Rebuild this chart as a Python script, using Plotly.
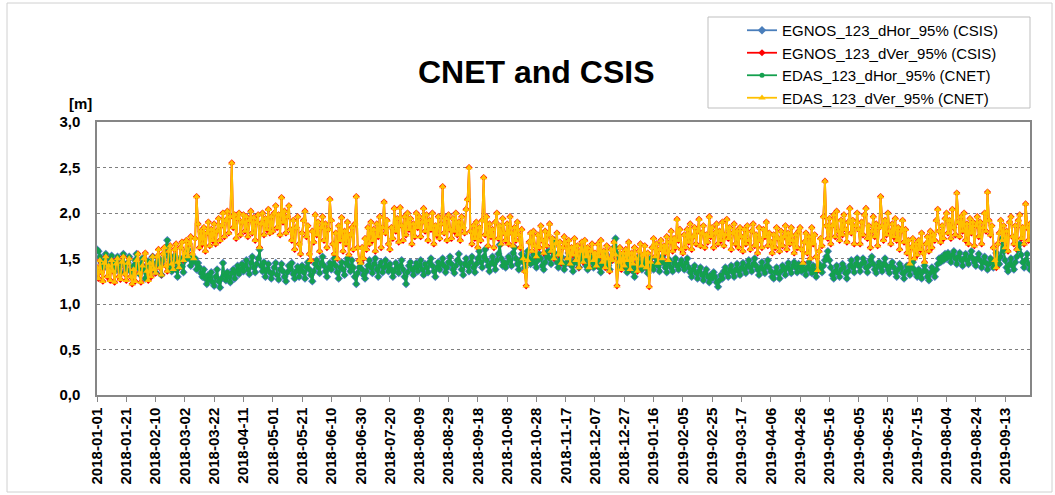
import pandas as pd
import plotly.graph_objects as go

# Daily 95% position errors [m], 2018-01-01 .. 2019-09-30, one row per 20 days
start_date = "2018-01-01"

edas_hor = [
    1.60, 1.58, 1.52, 1.45, 1.40, 1.48, 1.55, 1.42, 1.38, 1.50, 1.53, 1.44, 1.36, 1.47, 1.52, 1.40, 1.35, 1.46, 1.55, 1.43,
    1.38, 1.45, 1.52, 1.36, 1.30, 1.42, 1.48, 1.55, 1.40, 1.33, 1.44, 1.50, 1.38, 1.28, 1.41, 1.47, 1.36, 1.43, 1.52, 1.39,
    1.35, 1.46, 1.50, 1.42, 1.32, 1.48, 1.55, 1.62, 1.70, 1.52, 1.40, 1.36, 1.47, 1.53, 1.38, 1.30, 1.44, 1.50, 1.41, 1.35,
    1.48, 1.55, 1.60, 1.50, 1.42, 1.52, 1.46, 1.50, 1.38, 1.45, 1.40, 1.34, 1.30, 1.38, 1.28, 1.22, 1.32, 1.26, 1.35, 1.24,
    1.20, 1.30, 1.38, 1.25, 1.18, 1.28, 1.45, 1.32, 1.26, 1.35, 1.30, 1.24, 1.34, 1.38, 1.28, 1.36, 1.42, 1.33, 1.38, 1.44,
    1.36, 1.42, 1.48, 1.38, 1.33, 1.45, 1.52, 1.40, 1.35, 1.44, 1.50, 1.60, 1.42, 1.36, 1.46, 1.30, 1.38, 1.44, 1.35, 1.28,
    1.34, 1.40, 1.45, 1.32, 1.27, 1.38, 1.44, 1.36, 1.30, 1.25, 1.35, 1.42, 1.38, 1.45, 1.33, 1.28, 1.36, 1.41, 1.30, 1.37,
    1.42, 1.35, 1.28, 1.40, 1.46, 1.38, 1.32, 1.25, 1.36, 1.44, 1.48, 1.40, 1.34, 1.45, 1.52, 1.42, 1.36, 1.30, 1.40, 1.45,
    1.38, 1.44, 1.50, 1.42, 1.35, 1.28, 1.40, 1.46, 1.38, 1.32, 1.45, 1.50, 1.42, 1.36, 1.48, 1.40, 1.30, 1.22, 1.34, 1.40,
    1.45, 1.38, 1.32, 1.28, 1.36, 1.42, 1.48, 1.40, 1.34, 1.44, 1.50, 1.38, 1.30, 1.42, 1.46, 1.35, 1.40, 1.48, 1.42, 1.36,
    1.44, 1.38, 1.30, 1.36, 1.45, 1.40, 1.34, 1.42, 1.48, 1.38, 1.30, 1.22, 1.35, 1.42, 1.46, 1.38, 1.32, 1.40, 1.45, 1.36,
    1.42, 1.48, 1.38, 1.32, 1.44, 1.40, 1.35, 1.46, 1.50, 1.42, 1.36, 1.30, 1.40, 1.46, 1.38, 1.44, 1.50, 1.42, 1.35, 1.40,
    1.46, 1.52, 1.44, 1.38, 1.34, 1.42, 1.48, 1.55, 1.45, 1.38, 1.32, 1.44, 1.50, 1.42, 1.36, 1.46, 1.52, 1.40, 1.35, 1.44,
    1.50, 1.58, 1.46, 1.40, 1.52, 1.60, 1.48, 1.42, 1.36, 1.45, 1.52, 1.44, 1.38, 1.48, 1.55, 1.65, 1.50, 1.42, 1.46, 1.40,
    1.45, 1.52, 1.48, 1.42, 1.56, 1.62, 1.50, 1.44, 1.38, 1.48, 1.55, 1.46, 1.40, 1.52, 1.58, 1.50, 1.44, 1.48, 1.54, 1.45,
    1.40, 1.48, 1.55, 1.50, 1.42, 1.38, 1.46, 1.52, 1.58, 1.50, 1.44, 1.62, 1.70, 1.55, 1.46, 1.40, 1.48, 1.52, 1.45, 1.38,
    1.44, 1.50, 1.56, 1.48, 1.42, 1.36, 1.46, 1.52, 1.45, 1.40, 1.48, 1.55, 1.60, 1.50, 1.42, 1.38, 1.47, 1.53, 1.46, 1.40,
    1.45, 1.52, 1.48, 1.40, 1.35, 1.44, 1.50, 1.56, 1.46, 1.42, 1.38, 1.48, 1.54, 1.62, 1.72, 1.55, 1.45, 1.40, 1.48, 1.52,
    1.46, 1.40, 1.35, 1.44, 1.50, 1.42, 1.36, 1.30, 1.40, 1.46, 1.52, 1.44, 1.38, 1.42, 1.48, 1.40, 1.34, 1.45, 1.50, 1.42,
    1.38, 1.44, 1.50, 1.42, 1.36, 1.46, 1.52, 1.45, 1.40, 1.35, 1.44, 1.48, 1.40, 1.36, 1.45, 1.50, 1.42, 1.38, 1.44, 1.48,
    1.42, 1.38, 1.45, 1.50, 1.40, 1.35, 1.30, 1.38, 1.42, 1.34, 1.28, 1.36, 1.40, 1.32, 1.26, 1.34, 1.38, 1.30, 1.24, 1.32,
    1.28, 1.35, 1.30, 1.24, 1.19, 1.26, 1.32, 1.28, 1.36, 1.40, 1.34, 1.30, 1.38, 1.42, 1.35, 1.30, 1.38, 1.44, 1.36, 1.32,
    1.40, 1.45, 1.38, 1.34, 1.42, 1.48, 1.40, 1.36, 1.44, 1.50, 1.42, 1.38, 1.32, 1.40, 1.46, 1.38, 1.34, 1.42, 1.48, 1.40,
    1.36, 1.30, 1.28, 1.35, 1.40, 1.34, 1.28, 1.36, 1.42, 1.38, 1.32, 1.40, 1.45, 1.38, 1.34, 1.42, 1.46, 1.40, 1.35, 1.44,
    1.40, 1.36, 1.44, 1.38, 1.32, 1.40, 1.46, 1.38, 1.34, 1.42, 1.36, 1.30, 1.38, 1.44, 1.40, 1.35, 1.42, 1.48, 1.52, 1.58,
    1.48, 1.40, 1.32, 1.28, 1.36, 1.42, 1.34, 1.30, 1.38, 1.44, 1.40, 1.34, 1.28, 1.36, 1.42, 1.48, 1.40, 1.35, 1.44, 1.50,
    1.42, 1.36, 1.44, 1.50, 1.46, 1.40, 1.35, 1.42, 1.48, 1.52, 1.44, 1.38, 1.34, 1.42, 1.46, 1.40, 1.36, 1.44, 1.50, 1.42,
    1.38, 1.34, 1.42, 1.46, 1.40, 1.35, 1.30, 1.38, 1.44, 1.40, 1.34, 1.28, 1.36, 1.42, 1.38, 1.32, 1.40, 1.46, 1.38, 1.34,
    1.30, 1.38, 1.34, 1.28, 1.36, 1.42, 1.36, 1.30, 1.26, 1.34, 1.40, 1.36, 1.30, 1.38, 1.44, 1.50, 1.46, 1.52, 1.48, 1.55,
    1.50, 1.56, 1.52, 1.46, 1.54, 1.58, 1.50, 1.44, 1.52, 1.56, 1.48, 1.42, 1.50, 1.55, 1.48, 1.44, 1.52, 1.58, 1.50, 1.46,
    1.42, 1.50, 1.55, 1.48, 1.40, 1.46, 1.52, 1.45, 1.38, 1.44, 1.50, 1.46, 1.40, 1.48, 1.56, 1.50, 1.44, 1.52, 1.72, 1.58,
    1.48, 1.40, 1.36, 1.44, 1.50, 1.42, 1.38, 1.46, 1.52, 1.60, 1.66, 1.54, 1.46, 1.40, 1.48, 1.55, 1.44, 1.38,
]

edas_ver = [
    1.40, 1.28, 1.48, 1.35, 1.25, 1.45, 1.52, 1.30, 1.42, 1.26, 1.48, 1.36, 1.24, 1.44, 1.50, 1.30, 1.27, 1.46, 1.52, 1.33,
    1.26, 1.45, 1.50, 1.30, 1.22, 1.38, 1.25, 1.48, 1.55, 1.34, 1.24, 1.42, 1.50, 1.56, 1.36, 1.26, 1.45, 1.30, 1.52, 1.38,
    1.34, 1.52, 1.60, 1.40, 1.32, 1.55, 1.62, 1.42, 1.36, 1.58, 1.64, 1.44, 1.38, 1.60, 1.66, 1.46, 1.40, 1.62, 1.68, 1.48,
    1.56, 1.70, 1.52, 1.66, 1.74, 1.55, 1.50, 1.72, 2.18, 1.88, 1.62, 1.80, 1.66, 1.84, 1.58, 1.78, 1.90, 1.64, 1.82, 1.70,
    1.88, 1.66, 1.80, 1.94, 1.70, 1.86, 2.00, 1.74, 1.92, 2.02, 1.78, 1.96, 2.55, 1.84, 1.98, 1.72, 1.94, 2.00, 1.76, 1.90,
    1.98, 1.80, 1.96, 1.74, 1.92, 2.02, 1.78, 1.95, 1.70, 1.90, 1.98, 1.62, 1.88, 2.00, 1.76, 1.94, 1.82, 2.04, 1.78, 1.96,
    1.80, 2.00, 2.08, 1.84, 1.98, 1.76, 2.17, 1.90, 2.02, 1.78, 1.96, 2.08, 1.82, 1.70, 1.92, 1.60, 1.84, 1.96, 1.66, 1.55,
    1.78, 1.92, 2.02, 1.74, 1.86, 1.55, 1.48, 1.80, 1.68, 1.98, 1.76, 1.90, 1.58, 1.84, 1.96, 1.70, 1.88, 1.62, 1.82, 2.15,
    1.92, 1.66, 1.55, 1.78, 1.50, 1.86, 1.70, 1.95, 1.58, 1.80, 1.66, 1.90, 1.54, 1.76, 1.84, 1.60, 1.88, 2.18, 1.62, 1.48,
    1.45, 1.62, 1.50, 1.72, 1.60, 1.84, 1.66, 1.90, 1.70, 1.82, 1.58, 1.88, 1.74, 1.96, 1.62, 1.84, 2.12, 1.78, 1.92, 1.66,
    1.60, 1.84, 1.72, 2.05, 1.80, 1.94, 1.68, 2.06, 1.86, 1.70, 1.96, 1.76, 2.00, 1.82, 1.94, 1.66, 1.88, 1.74, 2.00, 1.84,
    1.96, 1.74, 1.90, 2.05, 1.80, 1.98, 1.70, 1.92, 1.82, 2.00, 1.66, 1.86, 1.76, 1.96, 1.72, 1.88, 2.29, 1.78, 1.94, 1.70,
    1.98, 1.82, 1.72, 1.94, 1.80, 2.00, 1.76, 1.90, 1.70, 1.96, 1.84, 1.78, 2.04, 2.15, 2.50, 1.80, 1.66, 1.86, 1.72, 1.90,
    1.62, 1.84, 1.70, 1.92, 2.39, 1.76, 1.96, 1.64, 1.88, 1.74, 1.82, 1.62, 1.90, 2.00, 1.72, 1.86, 1.66, 1.94, 1.78, 1.70,
    1.88, 1.66, 1.96, 1.78, 1.64, 1.84, 1.70, 1.90, 1.76, 1.62, 1.82, 1.50, 1.36, 1.20, 1.48, 1.68, 1.78, 1.58, 1.80, 1.64,
    1.52, 1.76, 1.62, 1.86, 1.70, 1.56, 1.80, 1.64, 1.76, 1.88, 1.58, 1.72, 1.50, 1.66, 1.78, 1.54, 1.68, 1.45, 1.62, 1.74,
    1.66, 1.50, 1.70, 1.44, 1.62, 1.54, 1.72, 1.48, 1.64, 1.40, 1.58, 1.68, 1.46, 1.70, 1.52, 1.62, 1.40, 1.58, 1.66, 1.48,
    1.56, 1.42, 1.66, 1.52, 1.70, 1.46, 1.58, 1.40, 1.64, 1.50, 1.36, 1.60, 1.48, 1.68, 1.54, 1.20, 1.46, 1.62, 1.38, 1.56,
    1.42, 1.60, 1.48, 1.68, 1.38, 1.56, 1.44, 1.62, 1.50, 1.36, 1.58, 1.66, 1.42, 1.54, 1.64, 1.40, 1.56, 1.19, 1.46, 1.62,
    1.72, 1.52, 1.66, 1.45, 1.60, 1.70, 1.50, 1.64, 1.56, 1.74, 1.48, 1.68, 1.80, 1.58, 1.72, 1.62, 1.93, 1.70, 1.82, 1.60,
    1.56, 1.76, 1.62, 1.82, 1.68, 1.88, 1.60, 1.74, 1.84, 1.66, 1.80, 1.93, 1.64, 1.78, 1.86, 1.62, 1.76, 1.68, 1.96, 1.74,
    1.84, 1.62, 1.78, 1.88, 1.66, 1.80, 1.70, 1.90, 1.64, 1.76, 1.93, 1.72, 1.84, 1.60, 1.78, 1.88, 1.66, 1.80, 1.62, 1.84,
    1.74, 1.58, 1.82, 1.66, 1.86, 1.70, 1.60, 1.80, 1.88, 1.64, 1.76, 1.56, 1.84, 1.70, 1.62, 1.82, 1.74, 1.90, 1.64, 1.78,
    1.68, 1.56, 1.76, 1.62, 1.84, 1.72, 1.58, 1.80, 1.64, 1.74, 1.86, 1.60, 1.78, 1.66, 1.84, 1.70, 1.56, 1.76, 1.62, 1.80,
    1.84, 1.60, 1.45, 1.68, 1.78, 1.56, 1.74, 1.50, 1.84, 1.66, 1.76, 1.52, 1.37, 1.58, 1.72, 1.64, 1.96, 2.35, 1.86, 1.72,
    1.94, 1.66, 1.86, 1.98, 1.74, 2.02, 1.80, 1.70, 1.92, 1.76, 1.98, 1.82, 1.68, 1.90, 2.05, 1.78, 1.92, 1.66, 1.86, 2.00,
    1.82, 1.66, 1.90, 1.76, 1.98, 2.05, 1.72, 1.86, 1.62, 1.80, 1.96, 1.74, 1.88, 1.64, 1.84, 2.18, 1.86, 1.70, 1.92, 1.76,
    2.00, 1.80, 1.66, 1.88, 1.74, 1.94, 1.70, 1.84, 1.60, 1.80, 1.92, 1.68, 1.82, 1.56, 1.70, 1.44, 1.62, 1.72, 1.50, 1.66,
    1.54, 1.70, 1.60, 1.78, 1.56, 1.46, 1.66, 1.74, 1.58, 1.80, 1.62, 1.76, 1.70, 1.92, 2.04, 1.80, 1.68, 1.86, 1.72, 1.94,
    2.00, 1.78, 1.92, 1.72, 2.04, 1.84, 1.76, 2.22, 1.90, 1.74, 1.96, 1.80, 2.00, 1.70, 1.88, 1.66, 1.94, 1.78, 1.90, 1.64,
    1.86, 1.96, 1.74, 1.90, 1.66, 1.84, 2.00, 1.80, 2.23, 1.92, 1.76, 1.86, 1.62, 1.48, 1.40, 1.66, 1.78, 1.92, 1.70, 1.86,
    1.62, 1.80, 1.58, 1.90, 1.96, 1.74, 1.66, 1.86, 1.60, 1.92, 1.98, 1.72, 1.84, 1.66, 2.10, 1.84, 1.70, 1.88,
]

# EGNOS (CSIS) values coincide with the EDAS (CNET) ones day by day
egnos_hor = list(edas_hor)
egnos_ver = list(edas_ver)

tick_labels = [
    "2018-01-01", "2018-01-21", "2018-02-10", "2018-03-02", "2018-03-22", "2018-04-11",
    "2018-05-01", "2018-05-21", "2018-06-10", "2018-06-30", "2018-07-20", "2018-08-09",
    "2018-08-29", "2018-09-18", "2018-10-08", "2018-10-28", "2018-11-17", "2018-12-07",
    "2018-12-27", "2019-01-16", "2019-02-05", "2019-02-25", "2019-03-17", "2019-04-06",
    "2019-04-26", "2019-05-16", "2019-06-05", "2019-06-25", "2019-07-15", "2019-08-04",
    "2019-08-24", "2019-09-13",
]

series = [
    ("EGNOS_123_dHor_95% (CSIS)", egnos_hor, "#4A7EBB", "diamond", 6.5),
    ("EGNOS_123_dVer_95% (CSIS)", egnos_ver, "#FF0000", "diamond", 5.5),
    ("EDAS_123_dHor_95% (CNET)", edas_hor, "#14A04E", "circle", 5.0),
    ("EDAS_123_dVer_95% (CNET)", edas_ver, "#FFC000", "triangle-up", 6.5),
]

fig = go.Figure()
for name, vals, color, symbol, size in series:
    dates = pd.date_range(start_date, periods=len(vals), freq="D")
    fig.add_trace(go.Scatter(
        x=dates, y=vals, name=name, mode="lines+markers",
        line=dict(color=color, width=1.8),
        marker=dict(color=color, symbol=symbol, size=size, line=dict(width=0)),
    ))

W, H = 1055, 495
L, R, T, B = 97, 25, 122, 100
pw, ph = W - L - R, H - T - B


def px(x):
    return (x - L) / pw


def py(y):
    return (H - B - y) / ph


fig.update_layout(
    width=W, height=H,
    margin=dict(l=L, r=R, t=T, b=B),
    paper_bgcolor="white", plot_bgcolor="white",
    separators=",.",
    font=dict(family="Arial, Liberation Sans, sans-serif", color="#000000"),
    showlegend=True,
    legend=dict(
        x=px(742), y=py(14), xanchor="left", yanchor="top",
        bgcolor="rgba(0,0,0,0)", borderwidth=0,
        font=dict(family="Arial, Liberation Sans, sans-serif", size=15, color="#000000"),
        tracegroupgap=0, itemwidth=30,
    ),
    xaxis=dict(
        type="date",
        range=["2018-01-01", "2019-09-30"],
        tickmode="array",
        tickvals=tick_labels,
        ticktext=tick_labels,
        tickangle=-90,
        tickfont=dict(family="Arial, Liberation Sans, sans-serif", size=15,
                      color="#000000", weight="bold"),
        ticks="outside", ticklen=5, tickcolor="#868686",
        showgrid=False, showline=True, linecolor="#868686", linewidth=1.5,
        mirror=True, zeroline=False,
    ),
    yaxis=dict(
        range=[0, 3.0], dtick=0.5, tick0=0, tickformat=".1f",
        tickfont=dict(family="Arial, Liberation Sans, sans-serif", size=15,
                      color="#000000", weight="bold"),
        ticks="", ticklabelstandoff=12,
        showgrid=True, gridcolor="#7F7F7F", griddash="dot", gridwidth=1,
        showline=True, linecolor="#868686", linewidth=1.5, mirror=True,
        zeroline=False,
    ),
    shapes=[
        # outer chart frame
        dict(type="rect", xref="paper", yref="paper",
             x0=px(7), x1=px(1052), y0=py(492), y1=py(3),
             line=dict(color="#D0D0D0", width=1), fillcolor="rgba(0,0,0,0)", layer="below"),
        # legend frame
        dict(type="rect", xref="paper", yref="paper",
             x0=px(708), x1=px(1030), y0=py(108), y1=py(17),
             line=dict(color="#BFBFBF", width=1), fillcolor="white", layer="below"),
    ],
    annotations=[
        dict(text="<b>CNET and CSIS</b>", xref="paper", yref="paper",
             x=px(536), y=py(72), xanchor="center", yanchor="middle", showarrow=False,
             font=dict(family="Arial, Liberation Sans, sans-serif", size=32, color="#000000")),
        dict(text="<b>[m]</b>", xref="paper", yref="paper",
             x=px(80), y=py(103), xanchor="center", yanchor="middle", showarrow=False,
             font=dict(family="Arial, Liberation Sans, sans-serif", size=15, color="#000000")),
    ],
)

fig.write_html("out.html")
